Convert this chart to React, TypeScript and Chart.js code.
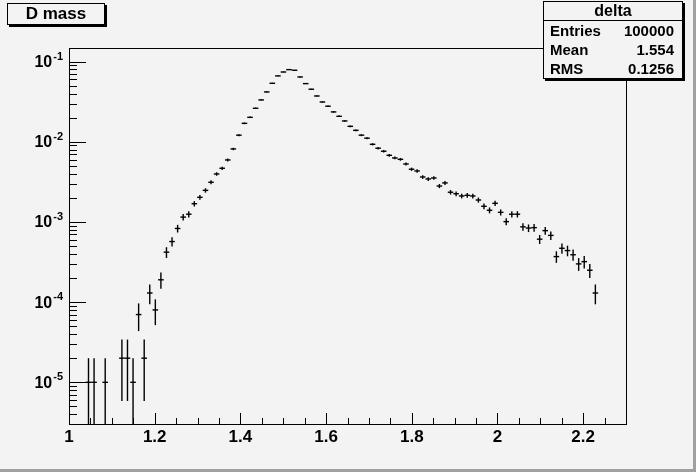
import { useEffect, useRef } from 'react';
import { Chart, registerables } from 'chart.js';

Chart.register(...registerables);

// histogram definition: 100 bins from 1 to 2.3
const X_MIN = 1;
const X_MAX = 2.3;
const BIN_WIDTH = 0.013;
const ENTRIES = 100000;

// bin contents (normalised), null = empty bin
const BIN_VALUES: (number | null)[] = [
  null, null, null, 1e-5, 1e-5, null, 1e-5, null, null, 2e-5,
  2e-5, 1e-5, 7e-5, 2e-5, 1.3e-4, 8e-5, 1.9e-4, 4.2e-4, 5.7e-4, 8.3e-4,
  1.15e-3, 1.25e-3, 1.69e-3, 2.03e-3, 2.48e-3, 3.13e-3, 3.97e-3, 4.68e-3, 5.94e-3, 8.15e-3,
  1.21e-2, 1.7e-2, 2.02e-2, 2.62e-2, 3.33e-2, 4.19e-2, 5.37e-2, 6.64e-2, 7.43e-2, 7.95e-2,
  7.81e-2, 6.44e-2, 5.32e-2, 4.53e-2, 3.73e-2, 3.14e-2, 2.78e-2, 2.36e-2, 2.08e-2, 1.82e-2,
  1.56e-2, 1.39e-2, 1.21e-2, 1.11e-2, 9.31e-3, 8.32e-3, 7.63e-3, 6.79e-3, 6.29e-3, 6.05e-3,
  5.29e-3, 4.55e-3, 4.33e-3, 3.64e-3, 3.44e-3, 3.54e-3, 2.81e-3, 3.07e-3, 2.35e-3, 2.25e-3,
  2.11e-3, 2.15e-3, 2.11e-3, 1.88e-3, 1.57e-3, 1.4e-3, 1.71e-3, 1.32e-3, 1.01e-3, 1.25e-3,
  1.25e-3, 8.7e-4, 8.4e-4, 8.5e-4, 6.1e-4, 7.8e-4, 6.8e-4, 3.7e-4, 4.7e-4, 4.4e-4,
  3.9e-4, 3.0e-4, 3.2e-4, 2.5e-4, 1.3e-4, null, null, null, null, null,
];

const X_TICKS = [1, 1.2, 1.4, 1.6, 1.8, 2, 2.2];
const X_TICK_LABELS = ['1', '1.2', '1.4', '1.6', '1.8', '2', '2.2'];
const Y_DECADES = [-1, -2, -3, -4, -5];
const Y_MIN = 3.02e-6;
const Y_MAX = 0.148;

const TITLE = 'D mass';
const STATS_NAME = 'delta';
const STATS_ROWS: [string, string][] = [
  ['Entries', '100000'],
  ['Mean', '1.554'],
  ['RMS', '0.1256'],
];

const FONT = '"Liberation Sans", Arial, Helvetica, sans-serif';
const BG = '#f3f3f3';

const rootFrame = {
  id: 'rootFrame',
  beforeDraw(chart: Chart) {
    const { ctx, width, height } = chart;
    ctx.save();
    ctx.fillStyle = BG;
    ctx.fillRect(0, 0, width, height);
    ctx.fillStyle = '#a0a0a0';
    ctx.fillRect(width - 3, 0, 3, height);
    ctx.fillRect(0, height - 3, width, 3);
    ctx.restore();
  },
  afterDraw(chart: Chart) {
    const { ctx, chartArea: a } = chart;
    const xs = chart.scales.x;
    const ys = chart.scales.y;
    const l = Math.round(a.left);
    const t = Math.round(a.top);
    const r = Math.round(a.right);
    const b = Math.round(a.bottom);
    ctx.save();
    ctx.fillStyle = '#000';
    // frame
    ctx.fillRect(l, t, r - l + 1, 1);
    ctx.fillRect(l, b, r - l + 1, 1);
    ctx.fillRect(l, t, 1, b - t + 1);
    ctx.fillRect(r, t, 1, b - t + 1);

    // x ticks, inside the frame
    for (let k = 0; k * 0.05 <= X_MAX - X_MIN + 1e-9; k++) {
      const v = X_MIN + k * 0.05;
      const major = X_TICKS.some((tk) => Math.abs(tk - v) < 1e-6);
      const px = Math.round(xs.getPixelForValue(v));
      const len = major ? 11 : 6;
      ctx.fillRect(px, b - len, 1, len);
    }
    // y ticks (log)
    for (let e = -6; e <= 0; e++) {
      for (let m = 1; m <= 9; m++) {
        const v = m * Math.pow(10, e);
        if (v < Y_MIN || v > Y_MAX) continue;
        const py = Math.round(ys.getPixelForValue(v));
        ctx.fillRect(l, py, m === 1 ? 17 : 8, 1);
      }
    }

    ctx.font = `bold 17px ${FONT}`;
    ctx.textAlign = 'center';
    ctx.textBaseline = 'top';
    X_TICKS.forEach((tk, i) => {
      ctx.fillText(X_TICK_LABELS[i], xs.getPixelForValue(tk), a.bottom + 5);
    });

    ctx.textAlign = 'right';
    ctx.textBaseline = 'middle';
    Y_DECADES.forEach((e) => {
      const py = ys.getPixelForValue(Math.pow(10, e));
      const exp = String(e);
      ctx.font = `bold 11px ${FONT}`;
      const ew = ctx.measureText(exp).width;
      const xr = a.left - 6;
      ctx.fillText(exp, xr, py - 5);
      ctx.font = `bold 16px ${FONT}`;
      ctx.fillText('10', xr - ew - 1, py + 1);
    });
    ctx.restore();
  },
};

const App = () => {
  const canvasRef = useRef<HTMLCanvasElement | null>(null);
  const chartRef = useRef<Chart | null>(null);

  useEffect(() => {
    if (!canvasRef.current) return;
    if (chartRef.current) chartRef.current.destroy();

    const points = BIN_VALUES.map((v, i) =>
      v == null ? null : { x: X_MIN + BIN_WIDTH * (i + 0.5), y: v }
    ).filter((p): p is { x: number; y: number } => p !== null);

    // poisson error bars
    const errors = points.map((p) => {
      const e = Math.sqrt(p.y / ENTRIES);
      return { x: p.x, y: [Math.max(p.y - e, Y_MIN), p.y + e] };
    });

    chartRef.current = new Chart(canvasRef.current, {
      type: 'scatter',
      data: {
        datasets: [
          {
            type: 'bar',
            label: 'errors',
            data: errors as any,
            backgroundColor: '#000',
            borderWidth: 0,
            barThickness: 1.4,
            inflateAmount: 0,
          } as any,
          {
            type: 'scatter',
            label: STATS_NAME,
            data: points,
            showLine: false,
            pointStyle: 'line',
            pointRadius: (c: any) => {
              const s = c.chart.scales.x;
              return (s.getPixelForValue(X_MIN + BIN_WIDTH) - s.getPixelForValue(X_MIN)) / 2;
            },
            pointBorderColor: '#000',
            pointBorderWidth: 1.4,
          } as any,
        ],
      },
      options: {
        responsive: false,
        animation: false,
        devicePixelRatio: 1,
        events: [],
        layout: { padding: { left: 69, right: 70, top: 48, bottom: 48 } },
        plugins: {
          legend: { display: false },
          tooltip: { enabled: false },
        },
        scales: {
          x: { type: 'linear', min: X_MIN, max: X_MAX, display: false, offset: false },
          y: { type: 'logarithmic', min: Y_MIN, max: Y_MAX, display: false },
        },
      },
      plugins: [rootFrame],
    });
    return () => {
      chartRef.current?.destroy();
      chartRef.current = null;
    };
  }, []);

  const boxStyle: React.CSSProperties = {
    position: 'absolute',
    boxSizing: 'border-box',
    border: '1px solid #000',
    boxShadow: '2px 2px 0 #000',
    background: BG,
    fontFamily: FONT,
    fontWeight: 'bold',
    color: '#000',
  };

  return (
    <div style={{ position: 'absolute', left: 0, top: 0, width: 696, height: 472, background: BG }}>
      <canvas ref={canvasRef} width={696} height={472} style={{ display: 'block' }} />
      <div
        style={{
          ...boxStyle,
          left: 7,
          top: 3,
          width: 98,
          height: 22,
          fontSize: 17,
          lineHeight: '20px',
          textAlign: 'center',
        }}
      >
        {TITLE}
      </div>
      <div style={{ ...boxStyle, left: 543, top: 1, width: 140, height: 78, fontSize: 15 }}>
        <div
          style={{
            height: 18,
            lineHeight: '18px',
            textAlign: 'center',
            fontSize: 16,
            borderBottom: '1px solid #000',
          }}
        >
          {STATS_NAME}
        </div>
        {STATS_ROWS.map(([k, v]) => (
          <div
            key={k}
            style={{
              display: 'flex',
              justifyContent: 'space-between',
              height: 19,
              lineHeight: '19px',
              padding: '0 8px 0 6px',
            }}
          >
            <span>{k}</span>
            <span>{v}</span>
          </div>
        ))}
      </div>
    </div>
  );
};

export default App;
